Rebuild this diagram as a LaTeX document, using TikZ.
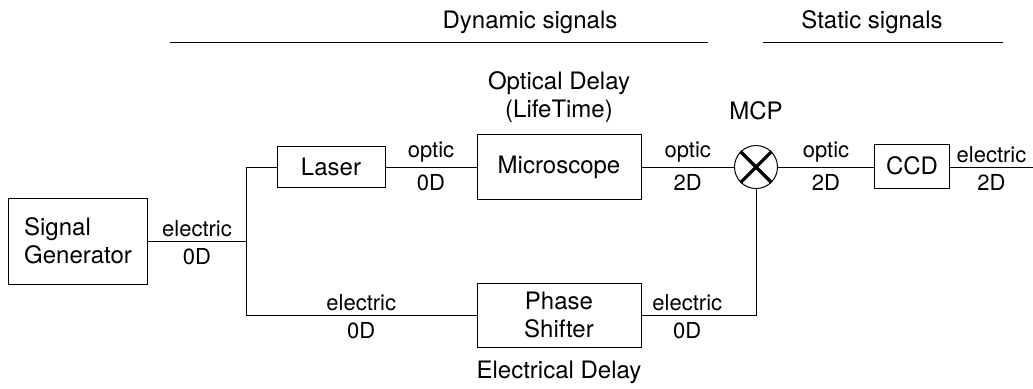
\documentclass[tikz,border=0pt]{standalone}
\usepackage{fontspec}
\setmainfont{TeX Gyre Heros}
\usetikzlibrary{positioning, calc}

\begin{document}
\begin{tikzpicture}[x=0.5pt, y=-0.5pt, line width=0.5pt,
  block/.style={draw, inner sep=0pt, align=center, font=\fontsize{12}{14.2}\selectfont},
  lbl/.style={font=\fontsize{11}{13}\selectfont, inner sep=2pt},
  lblb/.style={lbl, below, inner sep=3.5pt},
  txt/.style={font=\fontsize{12}{14.2}\selectfont, align=center}]
  \useasboundingbox (0,0) rectangle (1033,388);
  % headings
  \node[txt] (dyn) at (530,22) {Dynamic signals};
  \node[txt] (stat) at (872,22) {Static signals};
  \draw (170,42) -- (708,42);
  \draw (763,42) -- (1003,42);
  % blocks
  \node[block, align=left, minimum width=69.5pt, minimum height=43pt] (gen) at (78,241) {Signal\\Generator};
  \node[block, minimum width=54pt, minimum height=20.5pt] (laser) at (331,167) {Laser};
  \node[block, minimum width=82pt, minimum height=32.5pt] (micro) at (559,167) {Microscope};
  \node[block, minimum width=82pt, minimum height=32pt] (phase) at (559,315) {Phase\\Shifter};
  \node[block, minimum width=37.5pt, minimum height=22pt] (ccd) at (912,166) {CCD};
  \node[draw, circle, minimum size=21.5pt, inner sep=0pt] (mcp) at (756,167) {};
  \draw[line width=1.6pt] (mcp.45) -- (mcp.225);
  \draw[line width=1.6pt] (mcp.135) -- (mcp.315);
  % block captions
  \node[txt, above=9pt of mcp] (mcptext) {MCP};
  \node[txt, above=2pt of micro] (optdelay) {Optical Delay\\(LifeTime)};
  \node[txt, below=3pt of phase] (eldelay) {Electrical Delay};
  % junction
  \coordinate (split) at (246,241);
  \coordinate (splitup) at (246,167);
  \coordinate (splitdn) at (246,315);
  \coordinate (out) at (1033,167);
  % connectors
  \draw (gen.east |- split) -- node[lbl, above] {electric} node[lblb] {0D} (split);
  \draw (splitdn) -- (splitup) -- (laser.west);
  \draw (splitdn) -- node[lbl, above] {electric} node[lblb] {0D} (phase.west);
  \draw (laser.east) -- node[lbl, above] {optic} node[lblb] {0D} (micro.west);
  \draw (micro.east) -- node[lbl, above] {optic} node[lblb] {2D} (mcp.west);
  \draw (mcp.east) -- node[lbl, above] {optic} node[lblb] {2D} (ccd.west |- mcp);
  \draw (ccd.east |- mcp) -- node[lbl, above] {electric} node[lblb] {2D} (out);
  \draw (phase.east) -| node[lbl, pos=0.2, above] {electric} node[lblb, pos=0.2] {0D} (mcp.south);
\end{tikzpicture}
\end{document}
